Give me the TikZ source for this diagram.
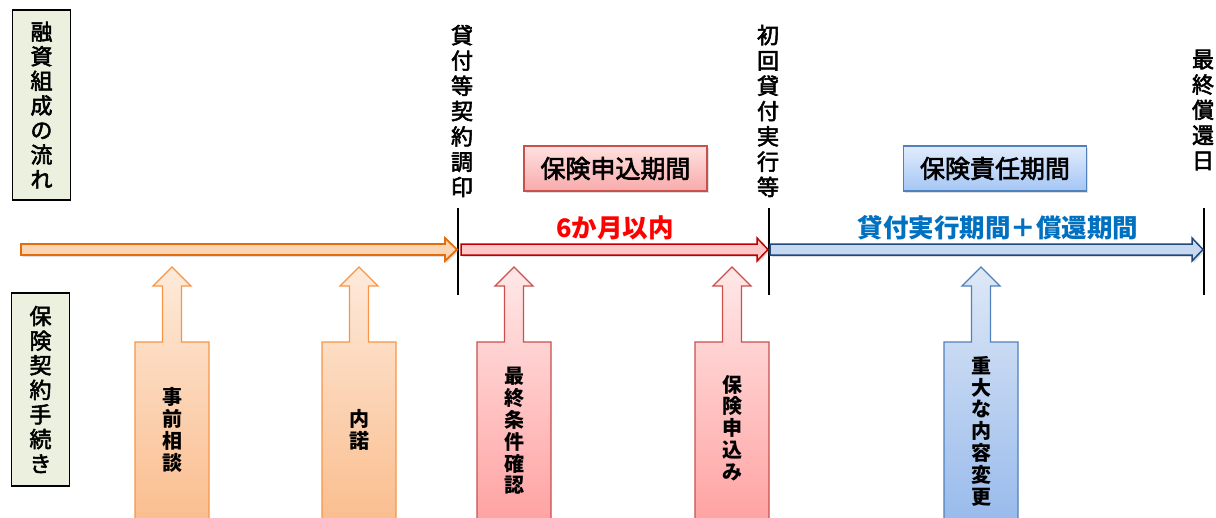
\documentclass[tikz,border=0pt]{standalone}
\usepackage{fontspec}
\setmainfont{Noto Sans CJK JP}
\newfontfamily\medfont{Noto Sans CJK JP}[FakeBold=2.5]
\usetikzlibrary{positioning,shadows}

\definecolor{sidegreen}{RGB}{235,241,222}
\definecolor{orline}{RGB}{228,108,10}
\definecolor{orfill}{RGB}{252,213,181}
\definecolor{rdline}{RGB}{192,0,0}
\definecolor{rdfill}{RGB}{255,200,200}
\definecolor{blline}{RGB}{31,73,125}
\definecolor{blfill}{RGB}{198,217,241}
\definecolor{upor}{RGB}{247,150,70}
\definecolor{uprd}{RGB}{200,80,77}
\definecolor{upbl}{RGB}{79,129,189}
\definecolor{bltext}{RGB}{0,112,192}

% block arrow pointing up to the time line, #1 = centre x
\newcommand{\upblock}[2]{%
\draw[#2] (#1-37,530) -- (#1-37,342) -- (#1-9.5,342) -- (#1-9.5,286) -- (#1-19,286) -- (#1,267)
  -- (#1+19,286) -- (#1+9.5,286) -- (#1+9.5,342) -- (#1+37,342) -- (#1+37,530) -- cycle;}

\begin{document}
\begin{tikzpicture}[x=1pt,y=-1pt,
  sidebox/.style={draw=black,line width=1.4pt,fill=sidegreen,minimum width=58pt,inner sep=0pt,
    align=center,font=\medfont\fontsize{22}{24.6}\selectfont},
  mark label/.style={align=center,inner sep=0pt,font=\medfont\fontsize{22}{25.3}\selectfont},
  uptext/.style={align=center,inner sep=0pt,font=\bfseries\fontsize{20}{21.8}\selectfont},
  soft shadow/.style={drop shadow={opacity=0.25,shadow xshift=1.5pt,shadow yshift=-2pt}},
  orup/.style={draw=upor,line width=1.3pt,top color={rgb,255:red,253;green,234;blue,218},bottom color={rgb,255:red,250;green,188;blue,140}},
  rdup/.style={draw=uprd,line width=1.3pt,top color={rgb,255:red,255;green,232;blue,232},bottom color={rgb,255:red,255;green,160;blue,160}},
  blup/.style={draw=upbl,line width=1.3pt,top color={rgb,255:red,222;green,232;blue,246},bottom color={rgb,255:red,150;green,185;blue,235}},
  period/.style={line width=1.3pt,minimum width=183pt,minimum height=45pt,inner sep=0pt,soft shadow,
    font=\medfont\fontsize{25}{25}\selectfont}]

\clip (0,0) rectangle (1216,517);
\fill[white] (0,0) rectangle (1216,517);

\node[sidebox,minimum height=190pt] (flow) at (41.5,105) {融\\資\\組\\成\\の\\流\\れ};
\node[sidebox,minimum height=193pt] (proc) at (40.5,389.5) {保\\険\\契\\約\\手\\続\\き};

\node[mark label] (sign) at (462,111) {貸\\付\\等\\契\\約\\調\\印};
\node[mark label] (first) at (768,111) {初\\回\\貸\\付\\実\\行\\等};
\node[mark label] (last) at (1203,110) {最\\終\\償\\還\\日};

\draw[line width=2pt] (458,208) -- (458,295);
\draw[line width=2pt] (769,208) -- (769,295);
\draw[line width=2pt] (1204,208) -- (1204,295);

\draw[draw=orline,fill=orfill,line width=1.8pt,soft shadow] (21,244) -- (445,244) -- (445,238) -- (457,249.5) -- (445,261) -- (445,255) -- (21,255) -- cycle;
\draw[draw=rdline,fill=rdfill,line width=1.5pt,soft shadow] (461,244) -- (757,244) -- (757,238) -- (768,249.5) -- (757,261) -- (757,255) -- (461,255) -- cycle;
\draw[draw=blline,fill=blfill,line width=1.5pt,soft shadow] (770,244) -- (1192,244) -- (1192,238) -- (1203,249.5) -- (1192,261) -- (1192,255) -- (770,255) -- cycle;

\node[period,draw=uprd,top color={rgb,255:red,255;green,225;blue,225},bottom color={rgb,255:red,248;green,170;blue,170}] (apply) at (615.5,168.5) {保険申込期間};
\node[period,draw=upbl,top color={rgb,255:red,225;green,236;blue,252},bottom color={rgb,255:red,165;green,198;blue,245}] (cover) at (995,168.5) {保険責任期間};

\node[text=red,font=\bfseries\fontsize{25.5}{25.5}\selectfont] (six) at (615,228) {6か月以内};
\node[text=bltext,font=\bfseries\fontsize{25.5}{25.5}\selectfont] (span) at (998,228) {貸付実行期間＋償還期間};

\upblock{172}{orup}
\upblock{359}{orup}
\upblock{514}{rdup}
\upblock{732}{rdup}
\upblock{981}{blup}

\node[uptext] (pre) at (172,430) {事\\前\\相\\談};
\node[uptext] (nod) at (359,430) {内\\諾};
\node[uptext] (chk) at (514,431) {最\\終\\条\\件\\確\\認};
\node[uptext] (req) at (732,428) {保\\険\\申\\込\\み};
\node[uptext] (chg) at (981,431) {重\\大\\な\\内\\容\\変\\更};
\end{tikzpicture}
\end{document}
